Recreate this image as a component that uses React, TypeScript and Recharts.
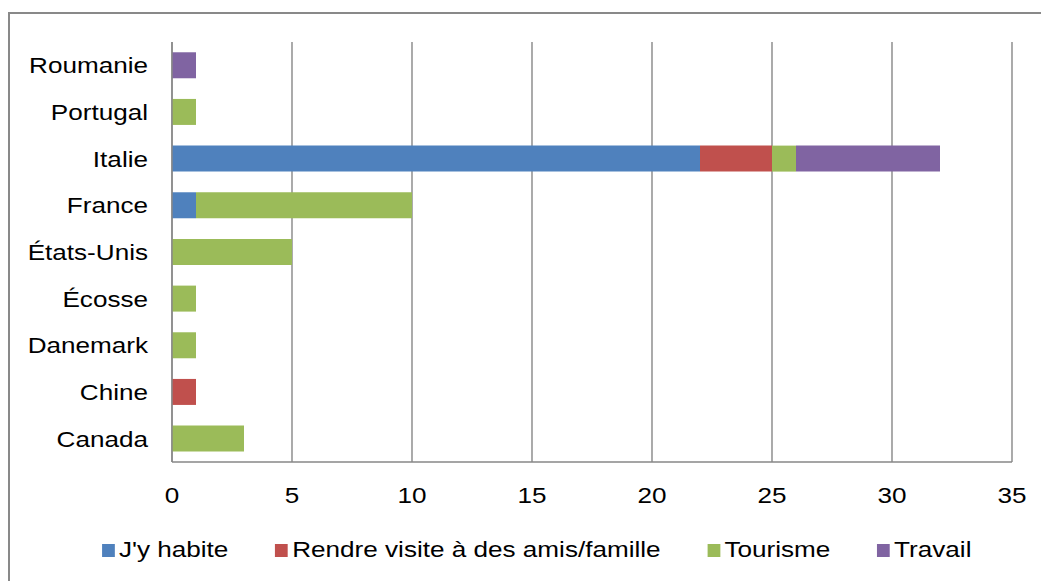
import { Bar, BarChart, CartesianGrid, Legend, XAxis, YAxis } from 'recharts'

const countries = ['Roumanie', 'Portugal', 'Italie', 'France', 'États-Unis', 'Écosse', 'Danemark', 'Chine', 'Canada']
const habite = [0, 0, 22, 1, 0, 0, 0, 0, 0]
const visite = [0, 0, 3, 0, 0, 0, 0, 1, 0]
const tourisme = [0, 1, 1, 9, 5, 1, 1, 0, 3]
const travail = [1, 0, 6, 0, 0, 0, 0, 0, 0]
const xTicks = [0, 5, 10, 15, 20, 25, 30, 35]

const series = [
  { key: 'habite', name: "J'y habite", color: '#4F81BD' },
  { key: 'visite', name: 'Rendre visite à des amis/famille', color: '#C0504D' },
  { key: 'tourisme', name: 'Tourisme', color: '#9BBB59' },
  { key: 'travail', name: 'Travail', color: '#8064A2' },
]

const data = countries.map((name, i) => ({
  name,
  habite: habite[i],
  visite: visite[i],
  tourisme: tourisme[i],
  travail: travail[i],
}))

const font = '"Liberation Sans", Arial, sans-serif'
const grey = '#878787'
const stretch = 1.16

const XTick = (props: any) => {
  const { x, y, payload } = props
  return (
    <text
      transform={`translate(${x},${y + 41}) scale(${stretch},1)`}
      textAnchor='middle'
      fontFamily={font}
      fontSize={22.5}
      fill='#000'
    >
      {payload.value}
    </text>
  )
}

const YTick = (props: any) => {
  const { x, y, payload } = props
  return (
    <text
      transform={`translate(${x},${y + 8}) scale(${stretch},1)`}
      textAnchor='end'
      fontFamily={font}
      fontSize={22.5}
      fill='#000'
    >
      {payload.value}
    </text>
  )
}

const LegendContent = () => (
  <div
    style={{
      display: 'flex',
      justifyContent: 'center',
      alignItems: 'center',
      transform: `scaleX(${stretch})`,
      fontFamily: font,
      fontSize: 22.5,
      color: '#000',
      gap: 40,
      whiteSpace: 'nowrap',
    }}
  >
    {series.map((s) => (
      <div key={s.key} style={{ display: 'flex', alignItems: 'center' }}>
        <span style={{ display: 'inline-block', width: 11, height: 13, background: s.color, marginRight: 4 }} />
        <span>{s.name}</span>
      </div>
    ))}
  </div>
)

export default function App() {
  return (
    <div style={{ position: 'absolute', left: 0, top: 0, width: 1041, height: 581, overflow: 'hidden', background: '#fff' }}>
      <div
        style={{
          position: 'absolute',
          left: 8,
          top: 12,
          width: 1100,
          height: 700,
          border: '2px solid #898989',
          boxSizing: 'border-box',
        }}
      />
      <div style={{ position: 'absolute', left: 0, top: 0 }}>
        <BarChart
          width={1041}
          height={581}
          data={data}
          layout='vertical'
          margin={{ top: 42, right: 29, left: 0, bottom: 0 }}
          barCategoryGap='22%'
        >
          <CartesianGrid horizontal={false} stroke={grey} strokeWidth={1.4} />
          <XAxis
            type='number'
            domain={[0, 35]}
            ticks={xTicks}
            interval={0}
            height={119}
            axisLine={{ stroke: grey, strokeWidth: 1.4 }}
            tickLine={false}
            tickSize={0}
            tickMargin={0}
            tick={<XTick />}
          />
          <YAxis
            type='category'
            dataKey='name'
            width={172}
            axisLine={{ stroke: grey, strokeWidth: 1.4 }}
            tickLine={false}
            tickSize={0}
            tickMargin={24}
            interval={0}
            tick={<YTick />}
          />
          <Legend
            layout='horizontal'
            verticalAlign='middle'
            align='center'
            content={<LegendContent />}
            wrapperStyle={{ top: 537, left: 16, width: 1041 }}
          />
          {series.map((s) => (
            <Bar key={s.key} dataKey={s.key} name={s.name} stackId='a' fill={s.color} isAnimationActive={false} />
          ))}
        </BarChart>
      </div>
    </div>
  )
}
